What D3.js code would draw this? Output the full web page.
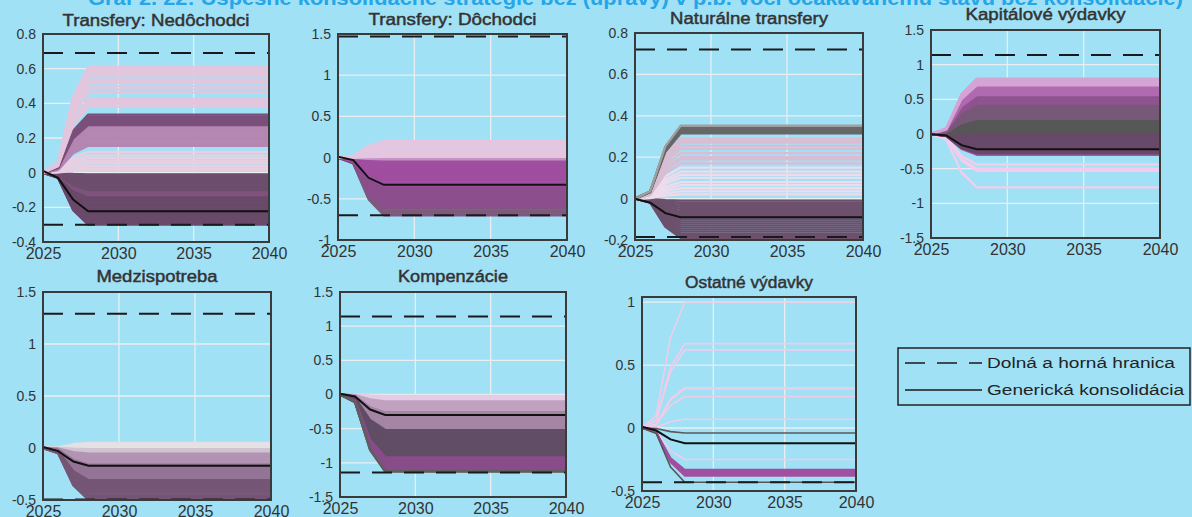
<!DOCTYPE html>
<html>
<head>
<meta charset="utf-8">
<script src="https://cdn.jsdelivr.net/npm/d3@7"></script>
<style>
  html, body { margin: 0; padding: 0; background: #a1e1f6; }
  svg { display: block; font-family: "Liberation Sans", Arial, sans-serif; }
</style>
</head>
<body>
<svg id="chart" width="1192" height="517"></svg>
<script>
// ---- data -------------------------------------------------------------
const years = [2025, 2026, 2027, 2028, 2040];
// share of the long-run effect reached in each year of the phase-in
const phaseIn = [0, 0.1, 0.72, 1, 1];

const titles = ["Transfery: Nedôchodci", "Transfery: Dôchodci", "Naturálne transfery",
  "Kapitálové výdavky", "Medzispotreba", "Kompenzácie", "Ostatné výdavky"];

const yDomains = [[-0.4, 0.8], [-1, 1.5], [-0.2, 0.8], [-1.5, 1.5], [-0.5, 1.5], [-1.5, 1.5], [-0.5, 1.04]];
const yTickValues = [
  [-0.4, -0.2, 0, 0.2, 0.4, 0.6, 0.8],
  [-1, -0.5, 0, 0.5, 1, 1.5],
  [-0.2, 0, 0.2, 0.4, 0.6, 0.8],
  [-1.5, -1, -0.5, 0, 0.5, 1, 1.5],
  [-0.5, 0, 0.5, 1, 1.5],
  [-1.5, -1, -0.5, 0, 0.5, 1, 1.5],
  [-0.5, 0, 0.5, 1]
];
const xTickValues = [2025, 2030, 2035, 2040];

const lowerBounds = [-0.30, -0.70, -0.185, null, -0.495, -1.14, -0.43];
const upperBounds = [0.69, 1.47, 0.72, 1.14, 1.29, 1.14, null];

// generic consolidation path, values at `years`
const genericPaths = [
  [0.01, -0.03, -0.155, -0.223, -0.223],
  [0.01, -0.03, -0.245, -0.33, -0.33],
  [0, -0.02, -0.07, -0.09, -0.09],
  [0, -0.02, -0.16, -0.22, -0.22],
  [0.01, -0.03, -0.13, -0.17, -0.17],
  [0.01, -0.03, -0.22, -0.30, -0.30],
  [0.01, -0.02, -0.09, -0.12, -0.12]
];

// long-run effect of each successful strategy
const strategiesNedochodci = [
  -0.30, -0.295, -0.288, -0.28, -0.272, -0.265, -0.258, -0.25, -0.242, -0.235, -0.228, -0.22,
  -0.212, -0.205, -0.198, -0.19, -0.182, -0.175, -0.168, -0.16, -0.152, -0.145, -0.138, -0.13,
  -0.122, -0.115, -0.108, -0.1, -0.092, -0.085, -0.078, -0.07, -0.062, -0.055, -0.048, -0.04,
  -0.032, -0.025, -0.018, -0.01,
  0.012, 0.025, 0.04, 0.055, 0.07, 0.085, 0.1, 0.12, 0.155, 0.165, 0.175, 0.185, 0.195, 0.205,
  0.215, 0.225, 0.235, 0.245, 0.255, 0.265, 0.275, 0.285, 0.295, 0.305, 0.315, 0.325, 0.335,
  0.38, 0.395, 0.405, 0.415, 0.425, 0.46, 0.48, 0.5, 0.52, 0.535, 0.55, 0.565, 0.58, 0.59, 0.6, 0.61
];
const strategiesDochodci = [
  -0.70, -0.685, -0.67, -0.655, -0.64, -0.62, -0.6, -0.58, -0.56, -0.54, -0.52, -0.5, -0.48,
  -0.46, -0.44, -0.42, -0.4, -0.38, -0.36, -0.34, -0.32, -0.3, -0.28, -0.26, -0.24, -0.22, -0.2,
  -0.18, -0.16, -0.14, -0.12, -0.1, -0.08, -0.06, -0.04, -0.02,
  0.01, 0.025, 0.04, 0.06, 0.08, 0.1, 0.12, 0.14, 0.16, 0.18, 0.2
];
const strategiesNaturalne = [
  -0.19, -0.18, -0.17, -0.16, -0.15, -0.14, -0.13, -0.12, -0.11, -0.1, -0.09, -0.08, -0.07,
  -0.06, -0.05, -0.04, -0.03, -0.02, -0.01,
  0.02, 0.035, 0.05, 0.065, 0.08, 0.1, 0.115, 0.13, 0.15, 0.17, 0.19, 0.2, 0.22, 0.24, 0.255,
  0.27, 0.28, 0.29, 0.315, 0.322, 0.33, 0.337, 0.345, 0.352
];
const strategiesKapitalove = [
  -0.77, -0.53, -0.5, -0.44,
  -0.3, -0.28, -0.26, -0.24, -0.22, -0.2, -0.18, -0.16, -0.14, -0.12, -0.1, -0.08, -0.06, -0.04,
  -0.02, 0, 0.02, 0.04, 0.06, 0.08, 0.1, 0.12, 0.14, 0.16, 0.18, 0.2, 0.22, 0.24, 0.26, 0.28,
  0.3, 0.32, 0.34, 0.36, 0.38, 0.4, 0.42, 0.44, 0.46, 0.48, 0.5, 0.52, 0.54, 0.56, 0.58, 0.6,
  0.62, 0.64, 0.66, 0.68, 0.7, 0.72, 0.74, 0.76, 0.78, 0.8
];
const strategiesMedzispotreba = [
  0.05, 0.03, 0.015,
  -0.01, -0.025, -0.04, -0.055, -0.07, -0.085, -0.1, -0.115, -0.13, -0.145, -0.16, -0.175,
  -0.19, -0.205, -0.22, -0.235, -0.25, -0.265, -0.28, -0.295, -0.31, -0.325, -0.34, -0.355,
  -0.37, -0.385, -0.4, -0.415, -0.43, -0.445, -0.46, -0.475, -0.49, -0.5
];
const strategiesKompenzacie = [
  -0.02, -0.04, -0.06, -0.08, -0.1, -0.12, -0.14, -0.16, -0.18, -0.2, -0.22, -0.24, -0.26,
  -0.28, -0.3, -0.32, -0.34, -0.36, -0.38, -0.4, -0.42, -0.44, -0.46, -0.48, -0.5, -0.52,
  -0.54, -0.56, -0.58, -0.6, -0.62, -0.64, -0.66, -0.68, -0.7, -0.72, -0.74, -0.76, -0.78,
  -0.8, -0.82, -0.84, -0.86, -0.88, -0.9, -0.92, -0.94, -0.96, -0.98, -1.0, -1.02, -1.04,
  -1.06, -1.08, -1.1, -1.12, -1.13
];
const strategiesOstatne = [
  1.0, 0.67, 0.62, 0.32, 0.31, 0.25, 0.07, -0.25, -0.04,
  -0.33, -0.34, -0.345, -0.35, -0.36, -0.365, -0.37, -0.38, -0.43
];
const strategies = [strategiesNedochodci, strategiesDochodci, strategiesNaturalne,
  strategiesKapitalove, strategiesMedzispotreba, strategiesKompenzacie, strategiesOstatne];

const legendLabels = ["Dolná a horná hranica", "Generická konsolidácia"];
const headline = "Graf 2. 22: Úspešné konsolidačné stratégie bez (úpravy) v p.b. voči očakávanému stavu bez konsolidácie)";

// ---- layout & styling ---------------------------------------------------
const frames = [
  { l: 43, r: 269, t: 34, b: 242, ty: 26, tw: 187, lw: 2.3 },
  { l: 338, r: 567, t: 34, b: 240, ty: 25, tw: 168, lw: 2.3 },
  { l: 635, r: 863, t: 33, b: 240, ty: 24, tw: 158, lw: 2.3 },
  { l: 931, r: 1160, t: 30, b: 238, ty: 20, tw: 160, lw: 2.3 },
  { l: 43, r: 271, t: 292, b: 500, ty: 282, tw: 121, lw: 2.3 },
  { l: 340, r: 566, t: 292, b: 497, ty: 282, tw: 110, lw: 2.3 },
  { l: 642, r: 856, t: 297, b: 491, ty: 288, tw: 128, lw: 1.6 }
];

// colour bands of the fan, by long-run effect
const fanColours = [
  { cut: [-0.135, -0.1, -0.005, 0.14, 0.27, 0.34],
    col: ["#6a4a6a", "#7f537c", "#6e4e6e", "#e6d0e2", "#b486b1", "#7b4f7b", "#e2c6dd"] },
  { cut: [-0.6, -0.35, -0.03, 0.0],
    col: ["#7e5a7e", "#8c4e8c", "#a04ea0", "#c394c3", "#e4c6e1"] },
  { cut: [-0.005, 0.16, 0.3, 0.348],
    col: ["#6c506c", "#ecdcec", "#d9bdd3", "#676767", "#a0a0a0"] },
  { cut: [-0.35, -0.29, 0.005, 0.21, 0.43, 0.56, 0.7],
    col: ["#f2cdec", "#a456a4", "#694969", "#575757", "#785878", "#8f538f", "#b06ab0", "#d4a4d4"] },
  { cut: [-0.3, -0.15, -0.045, 0],
    col: ["#765676", "#947496", "#b393b3", "#d0c4d0", "#e4e0e4"] },
  { cut: [-1.1, -0.9, -0.5, -0.25, -0.08],
    col: ["#5e5e5e", "#884c88", "#614e66", "#a486a4", "#c0a2c0", "#e4cce4"] },
  { cut: [-0.4, -0.3, -0.2, -0.02],
    col: ["#555555", "#a050a0", "#f0cce8", "#5a5a5a", "#f0cce8"] }
];

const svg = d3.select("#chart");
svg.append("rect").attr("width", 1192).attr("height", 517).attr("fill", "#a1e1f6");

// headline, partly above the visible area
svg.append("text")
  .attr("x", 88).attr("y", 5)
  .attr("textLength", 1095).attr("lengthAdjust", "spacingAndGlyphs")
  .attr("font-size", 20).attr("font-weight", "bold").attr("fill", "#25a6e8")
  .text(headline);

const defs = svg.append("defs");

frames.forEach((f, i) => {
  const x = d3.scaleLinear().domain([2025, 2040]).range([f.l, f.r]);
  const y = d3.scaleLinear().domain(yDomains[i]).range([f.b, f.t]);
  const g = svg.append("g");

  defs.append("clipPath").attr("id", "clip" + i)
    .append("rect").attr("x", f.l).attr("y", f.t).attr("width", f.r - f.l).attr("height", f.b - f.t);

  // grid
  const grid = g.append("g").attr("stroke", "#e9eef0").attr("stroke-width", 1.3);
  grid.selectAll("line.gx").data(xTickValues.slice(1, -1)).join("line")
    .attr("x1", d => x(d)).attr("x2", d => x(d)).attr("y1", f.t).attr("y2", f.b);
  grid.selectAll("line.gy").data(yTickValues[i].filter(v => y(v) > f.t + 1 && y(v) < f.b - 1)).join("line")
    .attr("x1", f.l).attr("x2", f.r).attr("y1", d => y(d)).attr("y2", d => y(d));

  const plot = g.append("g").attr("clip-path", `url(#clip${i})`);
  const line = d3.line().x((d, k) => x(years[k])).y(d => y(d));
  const colour = d3.scaleThreshold().domain(fanColours[i].cut).range(fanColours[i].col);

  // fan of successful strategies
  plot.append("g").attr("fill", "none").attr("stroke-width", f.lw).attr("stroke-linejoin", "round")
    .selectAll("path").data(strategies[i]).join("path")
    .attr("stroke", d => colour(d))
    .attr("d", d => line(phaseIn.map(s => d * s)));

  // generic consolidation
  plot.append("path").attr("fill", "none").attr("stroke", "#111").attr("stroke-width", 2)
    .attr("d", line(genericPaths[i]));

  // lower / upper bound
  [lowerBounds[i], upperBounds[i]].filter(v => v !== null).forEach(v => {
    plot.append("line")
      .attr("x1", f.l).attr("x2", f.r).attr("y1", y(v)).attr("y2", y(v))
      .attr("stroke", "#1a1a1a").attr("stroke-width", 2).attr("stroke-dasharray", "20 12");
  });

  // frame
  g.append("rect").attr("x", f.l).attr("y", f.t).attr("width", f.r - f.l).attr("height", f.b - f.t)
    .attr("fill", "none").attr("stroke", "#3a3a3a").attr("stroke-width", 2);

  // axes
  const ya = g.append("g").attr("transform", `translate(${f.l},0)`)
    .call(d3.axisLeft(y).tickValues(yTickValues[i]).tickSize(0).tickPadding(7).tickFormat(d => String(d)));
  ya.select(".domain").remove();
  ya.selectAll("text").attr("font-size", 14).attr("fill", "#333").attr("font-family", "Liberation Sans, Arial");

  const xa = g.append("g").attr("transform", `translate(0,${f.b})`)
    .call(d3.axisBottom(x).tickValues(xTickValues).tickSize(0).tickPadding(6).tickFormat(d3.format("d")));
  xa.select(".domain").remove();
  xa.selectAll("text").attr("font-size", 16).attr("fill", "#333").attr("font-family", "Liberation Sans, Arial");

  // panel title (regular face with a thin outline for a medium weight)
  g.append("text")
    .attr("x", (f.l + f.r) / 2).attr("y", f.ty).attr("text-anchor", "middle")
    .attr("textLength", f.tw).attr("lengthAdjust", "spacingAndGlyphs")
    .attr("font-size", 16).attr("fill", "#333")
    .attr("stroke", "#333").attr("stroke-width", 0.45)
    .text(titles[i]);
});

// legend
const lg = svg.append("g");
lg.append("rect").attr("x", 898).attr("y", 348).attr("width", 292).attr("height", 57)
  .attr("fill", "none").attr("stroke", "#222").attr("stroke-width", 1.5);
legendLabels.forEach((lab, k) => {
  const yy = 363 + k * 27;
  lg.append("line").attr("x1", 905).attr("x2", 982).attr("y1", yy).attr("y2", yy)
    .attr("stroke", "#1a1a1a").attr("stroke-width", 1.6)
    .attr("stroke-dasharray", k === 0 ? "20 12" : null);
  lg.append("text").attr("x", 987).attr("y", yy + 5)
    .attr("textLength", k === 0 ? 188 : 197).attr("lengthAdjust", "spacingAndGlyphs")
    .attr("font-size", 14).attr("fill", "#222").text(lab);
});
</script>
</body>
</html>
